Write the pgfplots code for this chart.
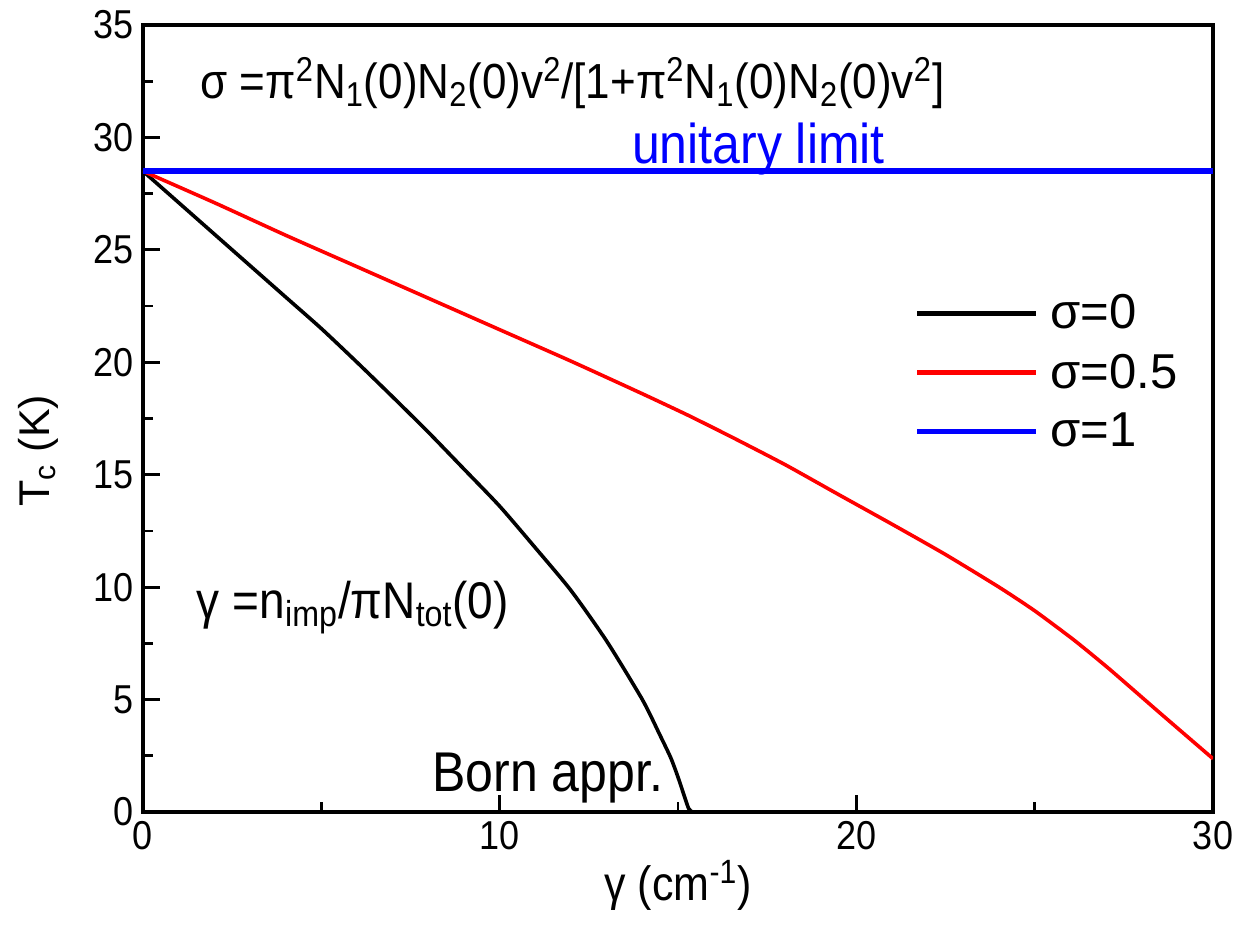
\documentclass[border=0pt]{standalone}
\usepackage{pgfplots}
\pgfplotsset{compat=1.18}
\usepackage{fontspec}
\setmainfont{Liberation Sans}
\newcommand{\vs}[1]{\scalebox{1}[1.12]{#1}}
\begin{document}
\begin{tikzpicture}
\begin{axis}[
  width=535pt, height=393.5pt, scale only axis=true,
  xmin=0, xmax=30, ymin=0, ymax=35,
  xtick={0,10,20,30}, minor xtick={5,15,25},
  ytick={0,5,10,15,20,25,30,35}, minor ytick={2.5,7.5,12.5,17.5,22.5,27.5,32.5},
  xtick pos=bottom, ytick pos=left,
  tick align=inside,
  major tick length=8.5pt, minor tick length=5pt,
  every tick/.style={black, line width=1.4pt},
  axis line style={line width=1.6pt},
  /pgf/number format/assume math mode=true,
  tick label style={font=\fontsize{18}{21}\selectfont},
  xticklabel={\vs{\pgfmathprintnumber{\tick}}},
  yticklabel={\vs{\pgfmathprintnumber{\tick}}},
  xticklabel style={yshift=-1pt},
  yticklabel style={xshift=-1pt},
  xlabel={\vs{γ (cm\textsuperscript{-1})}},
  ylabel={T\textsubscript{c} (K)},
  label style={font=\fontsize{21.5}{25}\selectfont},
  xlabel style={anchor=center, at={(axis description cs:0.5,-0.093)}},
  ylabel style={anchor=center, at={(axis description cs:-0.098,0.459)}},
  legend style={at={(axis cs:21.62,23.2)}, anchor=north west, draw=none, fill=none,
    font=\fontsize{24.5}{29}\selectfont, row sep=7pt, inner sep=0pt, column sep=4pt},
  legend cell align=left,
  legend image code/.code={\draw[#1, line width=2.6pt] (0pt,0pt) -- (59.5pt,0pt);},
]
\addplot[black, line width=1.8pt, smooth, tension=0.4] coordinates {
(0,28.5) (1,27.1) (2,25.7) (3,24.3) (4,22.9) (5,21.5) (6,20.0) (7,18.46) (8,16.89)
(9,15.25) (10,13.6) (11,11.75) (12,9.85) (13,7.6) (14,5.0) (14.5,3.4) (14.8,2.4)
(15.0,1.55) (15.2,0.6) (15.3,0.15) (15.4,0)};
\addlegendentry{σ=0}
\addplot[red, line width=1.8pt, smooth, tension=0.35] coordinates {
(0,28.5) (2,27.1) (4,25.65) (6,24.25) (8,22.85) (10,21.45) (12,20.05) (14,18.6)
(15.3,17.63) (16.5,16.68) (18,15.45) (19.5,14.12) (21,12.8) (22.5,11.45) (24,10.0)
(25,8.95) (26.1,7.65) (27.1,6.35) (28.5,4.42) (30,2.37)};
\addlegendentry{σ=0.5}
\addplot[blue, line width=3.2pt] coordinates {(0,28.5) (30,28.5)};
\addlegendentry{σ=1}
\addplot[black, line width=1.8pt, forget plot] coordinates {(15.4,0) (30,0)};
\node[anchor=west, font=\fontsize{22}{26}\selectfont, inner sep=0pt] at (axis cs:1.6,32.4)
  {\vs{σ =π\textsuperscript{2}N\textsubscript{1}(0)N\textsubscript{2}(0)v\textsuperscript{2}/[1+π\textsuperscript{2}N\textsubscript{1}(0)N\textsubscript{2}(0)v\textsuperscript{2}]}};
\node[anchor=west, font=\fontsize{25}{28}\selectfont, text=blue, inner sep=0pt] at (axis cs:13.7,29.5) {\vs{unitary limit}};
\node[anchor=west, font=\fontsize{23}{26}\selectfont, inner sep=0pt] at (axis cs:1.5,9.1)
  {\vs{γ =n\textsubscript{imp}/πN\textsubscript{tot}(0)}};
\node[anchor=west, font=\fontsize{25}{28}\selectfont, inner sep=0pt] at (axis cs:8.1,1.5) {\vs{Born appr.}};
\end{axis}
\pgfresetboundingbox
\path (current axis.south west) ++(-71.5pt,-63pt) coordinate (bl);
\path (current axis.north east) ++(10.5pt,12.5pt) coordinate (tr);
\path (bl) rectangle (tr);
\end{tikzpicture}
\end{document}
